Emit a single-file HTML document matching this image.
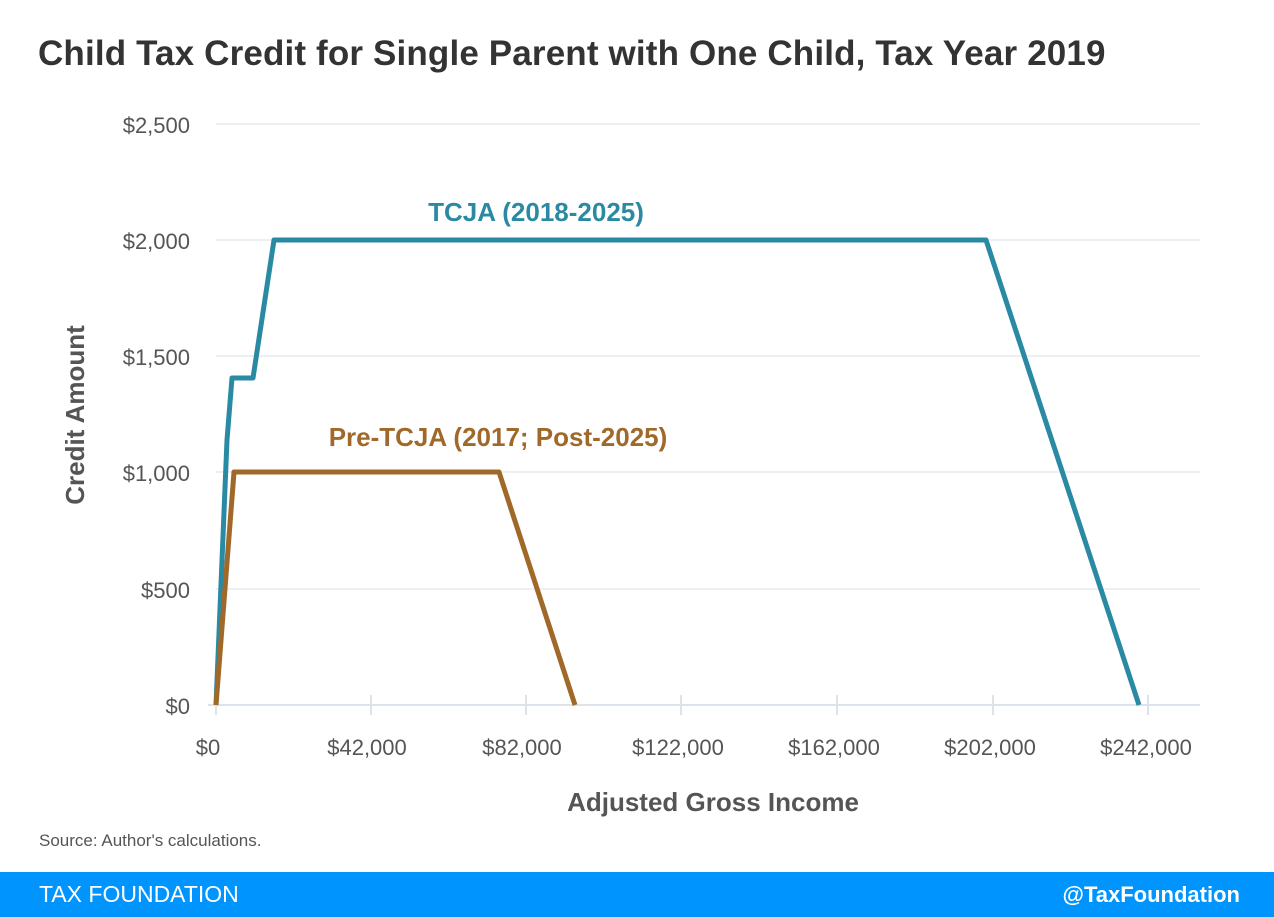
<!DOCTYPE html>
<html><head><style>
body{margin:0;width:1274px;height:917px;background:#fff;font-family:"Liberation Sans",sans-serif;overflow:hidden;position:relative}
.t{position:absolute;white-space:nowrap}
</style></head><body>
<div class="t" style="left:38px;top:34px;font-size:35px;font-weight:bold;color:#333;letter-spacing:0.15px">Child Tax Credit for Single Parent with One Child, Tax Year 2019</div>
<svg width="1274" height="917" style="position:absolute;left:0;top:0">
<g stroke="#e6eaf0" stroke-width="1.5">
<line x1="216" x2="1200" y1="124" y2="124"/><line x1="216" x2="1200" y1="240" y2="240"/>
<line x1="216" x2="1200" y1="356" y2="356"/><line x1="216" x2="1200" y1="472" y2="472"/>
<line x1="216" x2="1200" y1="589" y2="589"/>
</g>
<g stroke="#dde3eb" stroke-width="2">
<line x1="208" x2="1200" y1="705" y2="705"/>
<line x1="216" x2="216" y1="705" y2="715"/><line x1="371" x2="371" y1="695" y2="715"/>
<line x1="526" x2="526" y1="695" y2="715"/><line x1="681" x2="681" y1="695" y2="715"/>
<line x1="837" x2="837" y1="695" y2="715"/><line x1="993" x2="993" y1="695" y2="715"/>
<line x1="1148" x2="1148" y1="695" y2="715"/>
</g>
<polyline fill="none" stroke="#2a8aa3" stroke-width="5" stroke-linejoin="round" points="216,705 227,440 232,378 253,378 274,240 986,240 1139,705"/>
<polyline fill="none" stroke="#a0692a" stroke-width="5" stroke-linejoin="round" points="216,705 234,472 499,472 575,705"/>
<g font-family="Liberation Sans,sans-serif" font-size="22" fill="#555" text-anchor="end">
<text x="190" y="133">$2,500</text><text x="190" y="249">$2,000</text><text x="190" y="365">$1,500</text>
<text x="190" y="481">$1,000</text><text x="190" y="598">$500</text><text x="190" y="714">$0</text>
</g>
<g font-family="Liberation Sans,sans-serif" font-size="22" fill="#555" text-anchor="middle">
<text x="208" y="755">$0</text><text x="367" y="755">$42,000</text><text x="522" y="755">$82,000</text>
<text x="678" y="755">$122,000</text><text x="834" y="755">$162,000</text><text x="990" y="755">$202,000</text><text x="1146" y="755">$242,000</text>
</g>
<text x="713" y="811" text-anchor="middle" font-size="26" font-weight="bold" fill="#555" font-family="Liberation Sans,sans-serif">Adjusted Gross Income</text>
<text transform="translate(84,415) rotate(-90)" text-anchor="middle" font-size="26" font-weight="bold" fill="#555" font-family="Liberation Sans,sans-serif">Credit Amount</text>
<text x="536" y="221" text-anchor="middle" font-size="26" font-weight="bold" fill="#2a8aa3" font-family="Liberation Sans,sans-serif">TCJA (2018-2025)</text>
<text x="498" y="446" text-anchor="middle" font-size="26" font-weight="bold" fill="#a0692a" font-family="Liberation Sans,sans-serif">Pre-TCJA (2017; Post-2025)</text>
<text x="39" y="846" font-size="17" fill="#555" font-family="Liberation Sans,sans-serif">Source: Author's calculations.</text>
<rect x="0" y="872" width="1274" height="45" fill="#0094ff"/>
<text x="39" y="902" font-size="23" fill="#fff" font-family="Liberation Sans,sans-serif">TAX FOUNDATION</text>
<text x="1240" y="902" text-anchor="end" font-size="22" font-weight="bold" fill="#fff" font-family="Liberation Sans,sans-serif">@TaxFoundation</text>
</svg>
</body></html>
